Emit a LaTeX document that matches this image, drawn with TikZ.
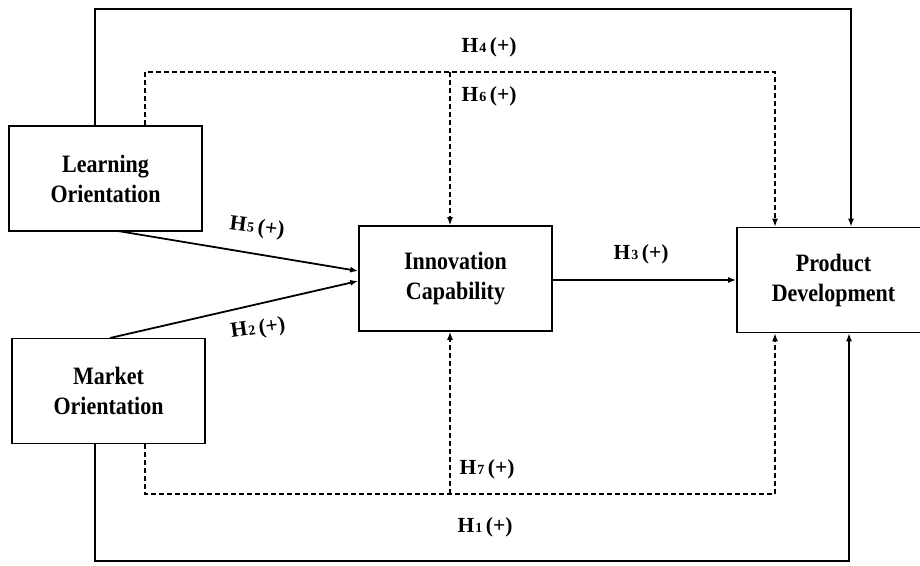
\documentclass[tikz,border=0pt]{standalone}
\usepackage{fontspec}
\setmainfont{Liberation Serif}
\newfontfamily\boxfont{Liberation Serif}[FakeStretch=0.88]
\usetikzlibrary{arrows.meta}
\newcommand{\hyp}[1]{H\kern1pt{\fontsize{14}{14}\selectfont #1}\,(+)}
\begin{document}
\begin{tikzpicture}[x=1pt,y=-1pt,
  box/.style={draw, line width=1.7pt, inner sep=0pt, minimum width=193pt,
    minimum height=105pt, align=center,
    font=\boxfont\bfseries\fontsize{25}{30}\selectfont},
  lbl/.style={font=\bfseries\fontsize{21.5}{22}\selectfont, inner sep=1pt},
  tip/.style={-{Latex[length=8pt,width=6pt]}},
  outer/.style={line width=1.3pt, tip},
  main/.style={line width=1.8pt, tip},
  dsh/.style={line width=1.3pt, dash pattern=on 5pt off 3pt, tip}
]
\useasboundingbox (0,0) rectangle (920,565);
\clip (0,0) rectangle (920,565);
\fill[white] (0,0) rectangle (920,565);

\node[box] (lo) at (105.5,178.5) {Learning\\Orientation};
\node[box] (mo) at (108.5,391) {Market\\Orientation};
\node[box] (ic) at (455.5,278.5) {Innovation\\Capability};
\node[box] (pd) at (833.5,280) {Product\\Development};

% outer solid paths
\coordinate (t1) at (95,9);
\coordinate (t2) at (851,9);
\draw[outer] (lo.north -| t1) -- (t1) -- (t2) -- (t2 |- pd.north);
\coordinate (b1) at (95,561);
\coordinate (b2) at (849,561);
\draw[outer] (mo.south -| b1) -- (b1) -- (b2) -- (b2 |- pd.south);

% dashed paths
\coordinate (d1) at (145,72);
\coordinate (d2) at (775,72);
\coordinate (d3) at (450,72);
\draw[dsh] (lo.north -| d1) -- (d1) -- (d2) -- (d2 |- pd.north);
\draw[dsh] (d3) -- (d3 |- ic.north);
\coordinate (e1) at (145,494);
\coordinate (e2) at (775,494);
\coordinate (e3) at (450,494);
\draw[dsh] (mo.south -| e1) -- (e1) -- (e2) -- (e2 |- pd.south);
\draw[dsh] (e3) -- (e3 |- ic.south);

% direct arrows
\coordinate (a5) at (118,231);
\coordinate (a2) at (110,338);
\draw[main] (a5) -- (ic.west |- 0,271);
\draw[main] (a2) -- (ic.west |- 0,281);
\draw[main] (ic.east |- 0,280) -- (pd.west |- 0,280);

% labels
\node[lbl] (h4) at (489,47) {\hyp{4}};
\node[lbl] (h6) at (489,96) {\hyp{6}};
\node[lbl] (h7) at (487,469) {\hyp{7}};
\node[lbl] (h1) at (485,527) {\hyp{1}};
\node[lbl] (h3) at (641,254) {\hyp{3}};
\node[lbl, rotate=-7] (h5) at (257,228) {\hyp{5}};
\node[lbl, rotate=8] (h2) at (258,329) {\hyp{2}};
\end{tikzpicture}
\end{document}
